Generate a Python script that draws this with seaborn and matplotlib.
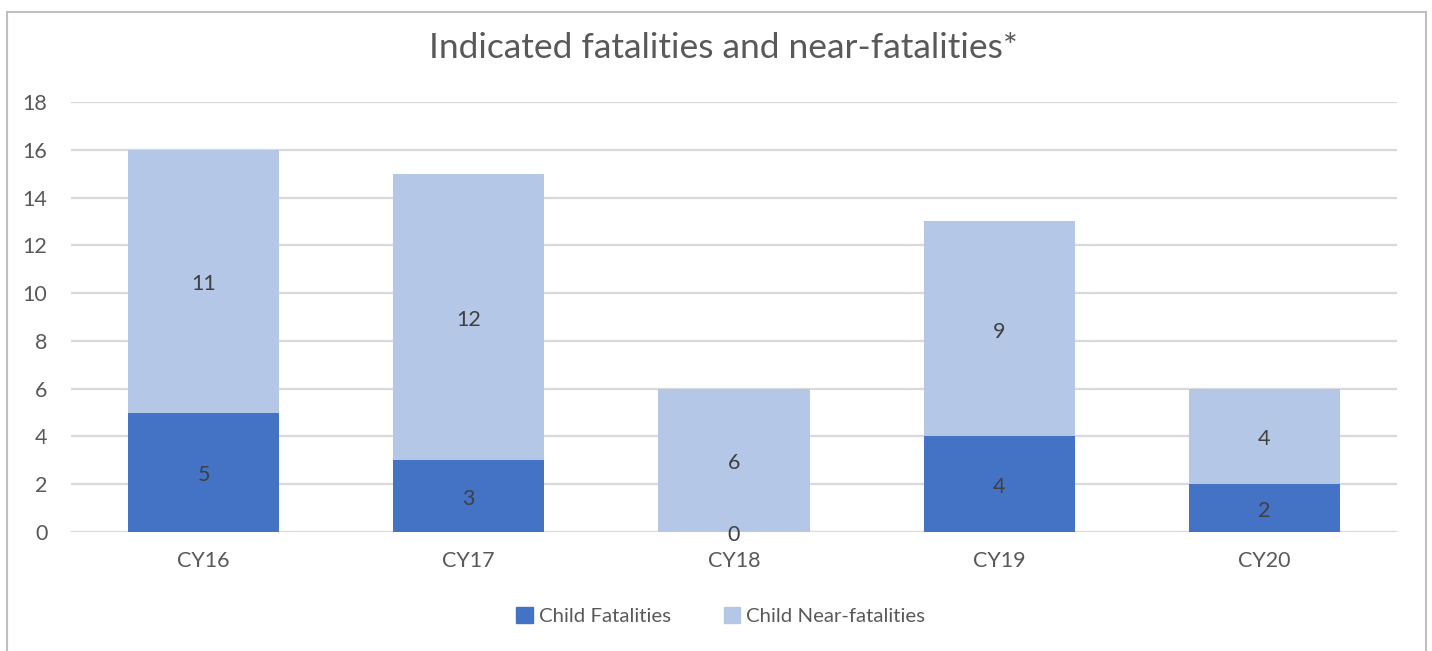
import matplotlib
matplotlib.use("Agg")
import matplotlib.pyplot as plt
import seaborn as sns
import pandas as pd
from matplotlib.patches import Rectangle

years = ["CY16", "CY17", "CY18", "CY19", "CY20"]
fatalities = [5, 3, 0, 4, 2]
near_fatalities = [11, 12, 6, 9, 4]
yticks = [0, 2, 4, 6, 8, 10, 12, 14, 16, 18]

dark = "#4472C4"
light = "#B4C7E7"
grid_c = "#D9D9D9"
text_c = "#595959"

sns.set_theme(style="white")
plt.rcParams["font.family"] = ["Lato", "DejaVu Sans"]

totals = [f + n for f, n in zip(fatalities, near_fatalities)]
df = pd.DataFrame({"year": years, "fatal": fatalities, "near": near_fatalities, "total": totals})

fig = plt.figure(figsize=(14.32, 6.51), dpi=100)
ax = fig.add_axes([71/1432, 1-532/651, (1397-71)/1432, (532-102)/651])

sns.barplot(data=df, x="year", y="total", color=light, width=0.57, ax=ax,
            saturation=1, linewidth=0, zorder=3)
sns.barplot(data=df, x="year", y="fatal", color=dark, width=0.57, ax=ax,
            saturation=1, linewidth=0, zorder=3)

ax.set_ylim(0, 18)
ax.set_xlim(-0.5, len(years) - 0.5)
ax.set_yticks(yticks)
ax.yaxis.grid(True, color=grid_c, linewidth=1.6, zorder=0)
ax.set_axisbelow(True)
for s in ax.spines.values():
    s.set_visible(False)
ax.axhline(0, color=grid_c, linewidth=1.8, zorder=2)
ax.set_xlabel("")
ax.set_ylabel("")
ax.tick_params(axis="y", length=0, pad=17, labelsize=15.5, labelcolor=text_c)
ax.tick_params(axis="x", length=0, pad=14, labelsize=15.5, labelcolor=text_c)

for i, (f, n) in enumerate(zip(fatalities, near_fatalities)):
    ax.annotate(str(f), (i, f / 2), xytext=(0, -3), textcoords="offset pixels",
                ha="center", va="center", fontsize=15.5, color="#404040", zorder=5)
    ax.annotate(str(n), (i, f + n / 2), xytext=(0, -3), textcoords="offset pixels",
                ha="center", va="center", fontsize=15.5, color="#404040", zorder=5)

fig.text(723/1432, 1-48/651, "Indicated fatalities and near-fatalities*", ha="center", va="center",
         fontsize=25.5, color=text_c)

handles = [Rectangle((0, 0), 1, 1, color=dark), Rectangle((0, 0), 1, 1, color=light)]
fig.legend(handles, ["Child Fatalities", "Child Near-fatalities"], loc="center",
           bbox_to_anchor=(721/1432, 1-616/651), ncol=2, frameon=False, fontsize=14.7,
           handlelength=0.8, handleheight=0.8, handletextpad=0.3, columnspacing=2.6,
           labelcolor=text_c)

border = Rectangle((7/1432, -0.05), (1426-7)/1432, 1-12/651+0.05, transform=fig.transFigure,
                   fill=False, edgecolor="#BFBFBF", linewidth=1.5)
fig.patches.append(border)

fig.savefig("out.png", dpi=100)
